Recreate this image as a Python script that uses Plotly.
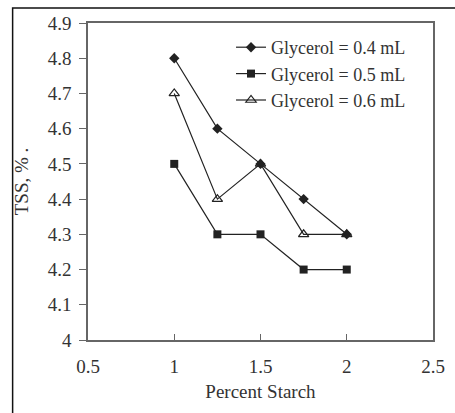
import plotly.graph_objects as go

starch = [1, 1.25, 1.5, 1.75, 2]
g04 = [4.8, 4.6, 4.5, 4.4, 4.3]
g05 = [4.5, 4.3, 4.3, 4.2, 4.2]
g06 = [4.7, 4.4, 4.5, 4.3, 4.3]
names = ["Glycerol = 0.4 mL", "Glycerol = 0.5 mL", "Glycerol = 0.6 mL"]
xticks = [0.5, 1, 1.5, 2, 2.5]
yticks = [4, 4.1, 4.2, 4.3, 4.4, 4.5, 4.6, 4.7, 4.8, 4.9]

FONT = "Liberation Serif, Times New Roman, serif"
INK = "#222"

fig = go.Figure()
fig.add_trace(go.Scatter(x=starch, y=g04, name=names[0], mode="lines+markers",
                         line=dict(color=INK, width=1.2),
                         marker=dict(symbol="diamond", size=8, color=INK)))
fig.add_trace(go.Scatter(x=starch, y=g05, name=names[1], mode="lines+markers",
                         line=dict(color=INK, width=1.2),
                         marker=dict(symbol="square", size=8, color=INK)))
fig.add_trace(go.Scatter(x=starch, y=g06, name=names[2], mode="lines+markers",
                         line=dict(color=INK, width=1.2),
                         marker=dict(symbol="triangle-up-open", size=9, color=INK,
                                     line=dict(width=1.2, color=INK))))

W, H = 455, 413
L, R, T, B = 88, 10, 23, 73
pw, ph = W - L - R, H - T - B

fig.update_layout(
    width=W, height=H,
    margin=dict(l=L, r=R, t=T, b=B),
    paper_bgcolor="white", plot_bgcolor="white",
    font=dict(family=FONT, size=17, color="#333"),
    showlegend=True,
    legend=dict(x=(236 - L) / pw, y=1 - (29 - T) / ph, xanchor="left", yanchor="top",
                bgcolor="rgba(0,0,0,0)", font=dict(size=18, color="#333"),
                tracegroupgap=0),
    xaxis=dict(range=[0.5, 2.5], tickvals=xticks, ticktext=[str(v) for v in xticks],
               ticks="inside", ticklen=6, tickcolor="#666", showline=True,
               linecolor="#666", linewidth=1.5, mirror=True, showgrid=False,
               zeroline=False, title=dict(text="Percent Starch", standoff=9,
                                          font=dict(size=19)),
               tickfont=dict(size=19), ticklabelstandoff=8),
    yaxis=dict(range=[4, 4.9], tickvals=yticks, ticktext=[f"{v:g}" for v in yticks],
               ticks="outside", ticklen=7, tickcolor="#666", showline=True,
               linecolor="#666", linewidth=1.5, mirror=True, showgrid=False,
               zeroline=False, title=dict(text="TSS, % .", standoff=14,
                                          font=dict(size=19)),
               tickfont=dict(size=19), ticklabelstandoff=4),
)

# outer picture frame
fig.add_shape(type="rect", xref="paper", yref="paper",
              x0=(10 - L) / pw, x1=(470 - L) / pw,
              y0=(H - B - 430) / ph, y1=1 + (T - 8) / ph,
              line=dict(color="#111", width=1.5), fillcolor="rgba(0,0,0,0)")

fig.write_html("out.html")
